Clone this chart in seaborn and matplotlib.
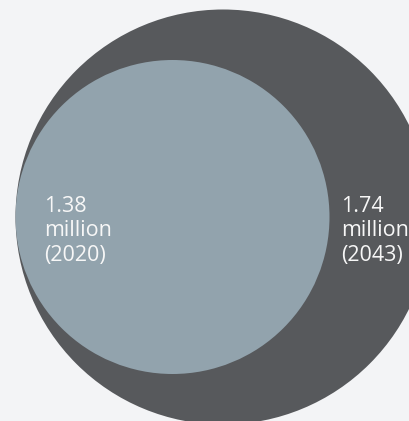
import numpy as np
import pandas as pd
import matplotlib
matplotlib.use("Agg")
import matplotlib.pyplot as plt
import seaborn as sns

# ---- data ----
years = ["2043", "2020"]
values = [1.74, 1.38]          # millions
labels = ["1.74\nmillion\n(2043)", "1.38\nmillion\n(2020)"]

# ---- style ----
BG = "#f3f4f6"
COLORS = {"2043": "#57595c", "2020": "#92a3ad"}
DPI = 100
W, H = 410, 421
R_SMALL_PX, R_LARGE_PX = 157.0, 207.5   # visual radius range for the size scale
LEFT_EDGE = 15.5                         # circles share a left tangent
CY = 217.0

def area_from_r(r_px):
    d_pt = 2 * r_px * 72.0 / DPI
    return d_pt ** 2

s_min, s_max = area_from_r(R_SMALL_PX), area_from_r(R_LARGE_PX)

df = pd.DataFrame({"year": years, "value": values, "label": labels})
# radius (px) via the same linear size mapping seaborn applies
vmin, vmax = df["value"].min(), df["value"].max()
area = s_min + (df["value"] - vmin) / (vmax - vmin) * (s_max - s_min)
r_px = np.sqrt(area) / 2 * DPI / 72.0
df["cx"] = LEFT_EDGE + r_px
df["cy"] = CY

sns.set_theme(style="white")
plt.rcParams["font.family"] = ["Open Sans", "DejaVu Sans"]

fig = plt.figure(figsize=(W / DPI, H / DPI), dpi=DPI, facecolor=BG)
ax = fig.add_axes([0, 0, 1, 1])
ax.set_facecolor(BG)

sns.scatterplot(data=df, x="cx", y="cy", size="value", sizes=(s_min, s_max),
                hue="year", palette=COLORS, linewidth=0, legend=False,
                ax=ax, alpha=1)

ax.set_xlim(0, W)
ax.set_ylim(H, 0)
ax.axis("off")

# labels
small = df[df["year"] == "2020"].iloc[0]
large = df[df["year"] == "2043"].iloc[0]
txt_kw = dict(color="#f7f7f7", fontsize=15.5, fontweight="normal",
              ha="left", va="center", linespacing=1.24)
ax.text(44, 231, small["label"], **txt_kw)
ax.text(small["cx"] + r_px[1] + 12, 231, large["label"], **txt_kw)

fig.savefig("out.png", dpi=DPI, facecolor=BG)
